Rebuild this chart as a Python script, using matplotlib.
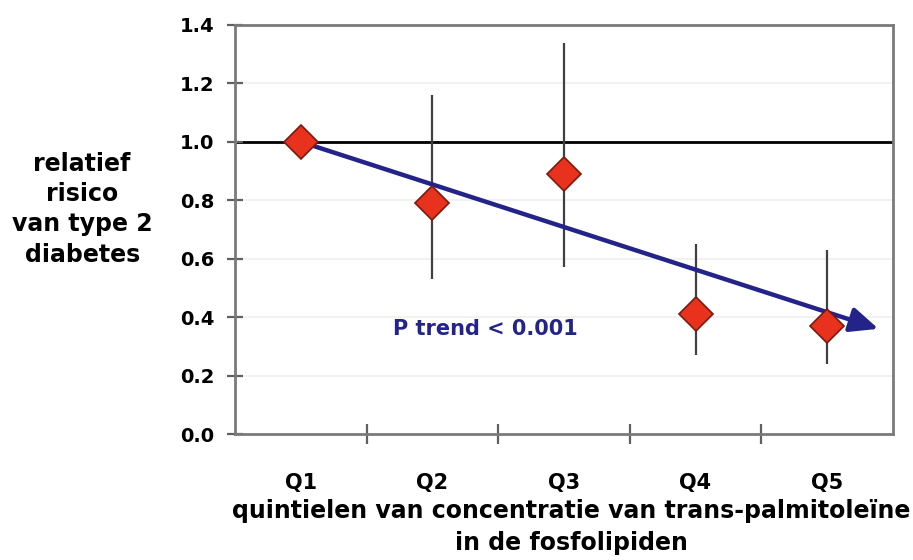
import numpy as np
import matplotlib
matplotlib.use('Agg')
import matplotlib.pyplot as plt

plt.rcParams['font.family'] = ['DejaVu Sans']
plt.rcParams['font.weight'] = 'bold'

quintiles = ['Q1', 'Q2', 'Q3', 'Q4', 'Q5']
rr = [1.00, 0.79, 0.89, 0.41, 0.37]
ci_low = [1.00, 0.53, 0.57, 0.27, 0.24]
ci_high = [1.00, 1.16, 1.34, 0.65, 0.63]
trend_start = (0.0, 1.0)
trend_end = (4.39, 0.36)

fig = plt.figure(figsize=(9.13, 5.6), dpi=100)
ax = fig.add_axes([0.2574, 0.225, 0.7206, 0.7304])

x = np.arange(len(quintiles))
rr = np.array(rr)
yerr = [rr - np.array(ci_low), np.array(ci_high) - rr]

# faint gridlines
for g in np.arange(0.2, 1.4, 0.2):
    ax.axhline(g, color='#efefef', lw=1.2, zorder=0)
ax.axhline(1.0, color='black', lw=2, zorder=1)

ax.errorbar(x, rr, yerr=yerr, fmt='none', ecolor='#404040', elinewidth=1.6, capsize=0, zorder=2)

ax.annotate('', xy=trend_end, xytext=trend_start,
            arrowprops=dict(arrowstyle='-|>,head_length=1.7,head_width=0.75',
                            color='#23238a', lw=3.2, shrinkA=0, shrinkB=0), zorder=3)

ax.plot(x, rr, 'D', ms=17, mfc='#e8321e', mec='#7a1a10', mew=1.2, zorder=4)

ax.text(1.4, 0.36, 'P trend < 0.001', color='#23238a', fontsize=15,
        fontweight='bold', ha='center', va='center')

ax.set_xlim(-0.5, 4.5)
ax.set_ylim(0, 1.4)
ax.set_yticks(np.arange(0, 1.41, 0.2))
ax.set_yticklabels(['%.1f' % v for v in np.arange(0, 1.41, 0.2)], fontsize=14)
ax.set_xticks(x)
ax.set_xticklabels(quintiles, fontsize=15)
ax.set_xticks(np.arange(0.5, 4.0, 1.0), minor=True)
ax.tick_params(axis='x', which='major', length=0, pad=28)
ax.tick_params(axis='x', which='minor', direction='inout', length=14, width=1.6, color='#606060')
ax.tick_params(axis='y', direction='inout', length=12, width=1.6, color='#606060', pad=9)

for s in ax.spines.values():
    s.set_color('#7a7a7a')
    s.set_linewidth(2)

fig.text(0.09, 0.626, 'relatief\nrisico\nvan type 2\ndiabetes', ha='center', va='center',
         fontsize=17, fontweight='bold', linespacing=1.32)
fig.text(0.626, 0.059, 'quintielen van concentratie van trans-palmitoleïne\nin de fosfolipiden',
         ha='center', va='center', fontsize=17, fontweight='bold', linespacing=1.42)

fig.savefig('out.png', dpi=100)
